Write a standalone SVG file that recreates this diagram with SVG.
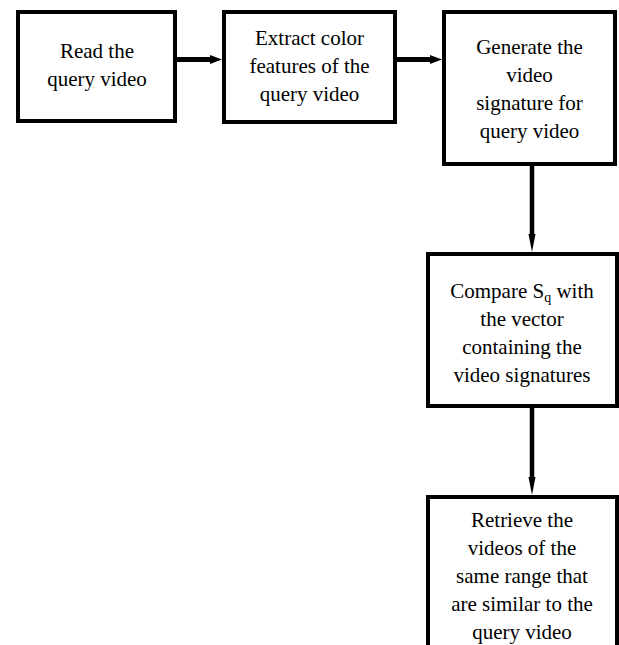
<svg xmlns="http://www.w3.org/2000/svg" width="619" height="645" viewBox="0 0 619 645">
<style>
.box{fill:#fff;stroke:#000;stroke-width:4}
.lbl{font-family:'Liberation Serif','Times New Roman',Times,'DejaVu Serif',serif;font-size:21px;fill:#000;text-anchor:middle}
.sub{font-size:14px}
.edge{stroke:#000;fill:none}
.head{fill:#000;stroke:none}
</style>
<rect width="619" height="645" fill="#fff"/>
<g id="connectors">
<line class="edge" x1="177" y1="59.5" x2="212" y2="59.5" stroke-width="5"/>
<polygon class="head" points="210,55 222,59.5 210,64"/>
<line class="edge" x1="397" y1="59.5" x2="432" y2="59.5" stroke-width="5"/>
<polygon class="head" points="430,55 442,59.5 430,64"/>
<line class="edge" x1="532" y1="166" x2="532" y2="236" stroke-width="4.5"/>
<polygon class="head" points="528.5,234 535.5,234 532,252"/>
<line class="edge" x1="532" y1="408" x2="532" y2="479" stroke-width="4.5"/>
<polygon class="head" points="528.5,477 535.5,477 532,495"/>
</g>
<g id="n1">
<rect class="box" x="18" y="12" width="157" height="109"/>
<text class="lbl" font-family="Liberation Serif, serif" x="97" y="58">Read the</text>
<text class="lbl" font-family="Liberation Serif, serif" x="97" y="86">query video</text>
</g>
<g id="n2">
<rect class="box" x="224" y="12" width="171" height="110"/>
<text class="lbl" x="309.5" y="45">Extract color</text>
<text class="lbl" x="309.5" y="73">features of the</text>
<text class="lbl" x="309.5" y="101">query video</text>
</g>
<g id="n3">
<rect class="box" x="444" y="12" width="171" height="152"/>
<text class="lbl" x="529.5" y="54">Generate the</text>
<text class="lbl" x="529.5" y="82">video</text>
<text class="lbl" x="529.5" y="110">signature for</text>
<text class="lbl" x="529.5" y="138">query video</text>
</g>
<g id="n4">
<rect class="box" x="428" y="254" width="189" height="152"/>
<text class="lbl" x="522" y="298">Compare S<tspan class="sub" dy="4">q</tspan><tspan dy="-4"> with</tspan></text>
<text class="lbl" x="522" y="326">the vector</text>
<text class="lbl" x="522" y="354">containing the</text>
<text class="lbl" x="522" y="382">video signatures</text>
</g>
<g id="n5">
<rect class="box" x="428" y="497" width="189" height="200"/>
<text class="lbl" x="522" y="527">Retrieve the</text>
<text class="lbl" x="522" y="555">videos of the</text>
<text class="lbl" x="522" y="583">same range that</text>
<text class="lbl" x="522" y="611">are similar to the</text>
<text class="lbl" x="522" y="639">query video</text>
</g>
</svg>
